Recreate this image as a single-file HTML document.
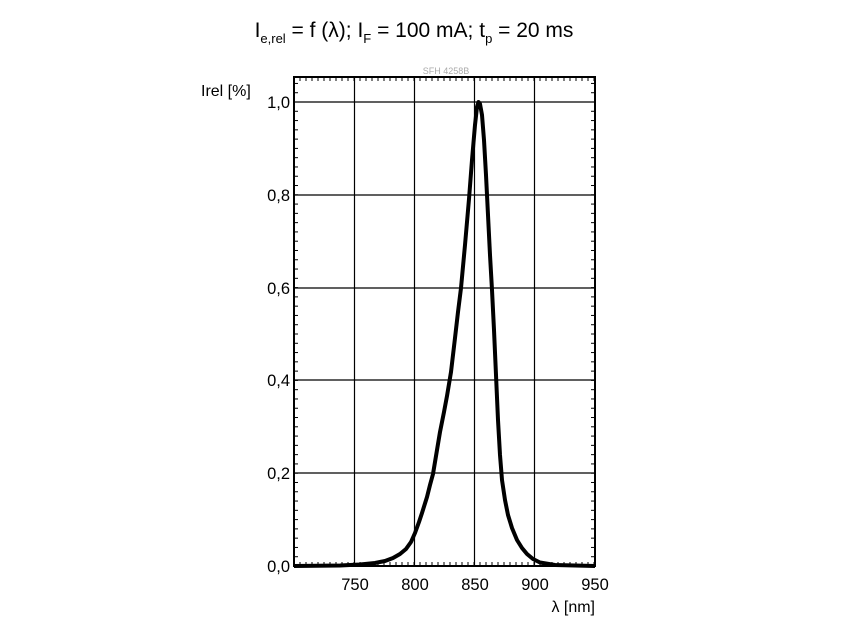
<!DOCTYPE html>
<html><head><meta charset="utf-8"><style>
body{margin:0;background:#fff;}
svg{display:block;font-family:"Liberation Sans",sans-serif;}
</style></head><body>
<svg width="845" height="630" viewBox="0 0 845 630">
<text x="414" y="37" font-size="21" text-anchor="middle">I<tspan font-size="13" dy="6">e,rel</tspan><tspan dy="-6"> = f (λ); I</tspan><tspan font-size="13" dy="6">F</tspan><tspan dy="-6"> = 100 mA; t</tspan><tspan font-size="13" dy="6">p</tspan><tspan dy="-6"> = 20 ms</tspan></text>
<text x="446" y="74" font-size="9" fill="#aaa" text-anchor="middle">SFH 4258B</text>
<text x="201" y="96" font-size="16">Irel [%]</text>
<g stroke="#000" stroke-width="1.2">
<line x1="354.5" y1="77" x2="354.5" y2="566"/><line x1="414.5" y1="77" x2="414.5" y2="566"/>
<line x1="474.5" y1="77" x2="474.5" y2="566"/><line x1="534.5" y1="77" x2="534.5" y2="566"/>
<line x1="294" y1="102" x2="595" y2="102"/><line x1="294" y1="195" x2="595" y2="195"/>
<line x1="294" y1="288" x2="595" y2="288"/><line x1="294" y1="380" x2="595" y2="380"/>
<line x1="294" y1="473" x2="595" y2="473"/>
</g>
<g id="ticks" stroke="#000" stroke-width="1"></g>
<rect x="294" y="77" width="301" height="489" fill="none" stroke="#000" stroke-width="2"/>
<polyline fill="none" stroke="#000" stroke-width="4" stroke-linejoin="round" points="
294,566 340,565.5 360,564.5 375,563 385,561 393,558 400,554 406,549 411,542 415,533 419,522 422,513 427,497 430,485 433,474 437,450 440,432 444,412 447,396 451,372 455,338 458,312 461,288 465,245 469,199 472,160 475,125 477,107 478.5,102 480,104 482,115 484,140 486,175 488,215 490,255 492,290 494,330 496,375 498,420 500,455 502,480 505,500 508,515 512,528 517,540 522,548 527,554 533,559 540,562.5 555,565 575,565.5 595,566"/>
<g font-size="16.5" text-anchor="end">
<text x="290" y="108">1,0</text><text x="290" y="201">0,8</text><text x="290" y="294">0,6</text>
<text x="290" y="386">0,4</text><text x="290" y="479">0,2</text><text x="290" y="572">0,0</text>
</g>
<g font-size="16.5" text-anchor="middle">
<text x="355" y="590">750</text><text x="415" y="590">800</text><text x="475" y="590">850</text>
<text x="535" y="590">900</text><text x="595" y="590">950</text>
</g>
<text x="595" y="612" font-size="16" text-anchor="end">λ [nm]</text>
</svg>
<script>
var g=document.getElementById('ticks'),s='';
for(var x=294;x<=595;x+=6){s+='<line x1="'+x+'" y1="77" x2="'+x+'" y2="81"/><line x1="'+x+'" y1="566" x2="'+x+'" y2="562"/>';}
for(var y=566;y>=77;y-=9.28){s+='<line x1="294" y1="'+y+'" x2="298" y2="'+y+'"/><line x1="595" y1="'+y+'" x2="591" y2="'+y+'"/>';}
g.innerHTML=s;
</script>
</body></html>
